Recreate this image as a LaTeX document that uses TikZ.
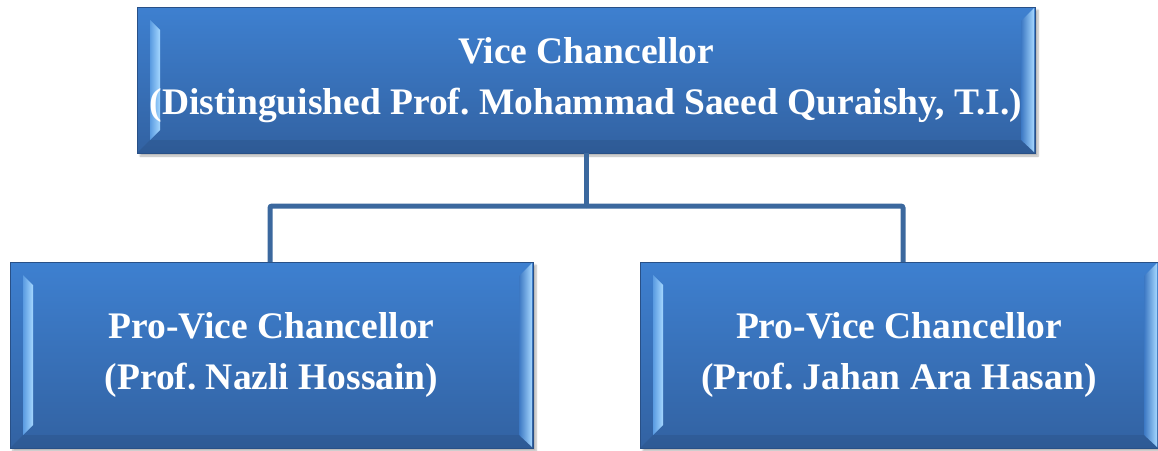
\documentclass[tikz,border=0pt]{standalone}
\usepackage{fontspec}
\setmainfont{Liberation Serif}
\usetikzlibrary{calc,shadows.blur}
\definecolor{boxtop}{RGB}{62,128,208}
\definecolor{boxbot}{RGB}{50,98,162}
\definecolor{boxedge}{RGB}{40,80,135}
\definecolor{linec}{RGB}{59,104,158}
\definecolor{facetdark}{RGB}{90,155,225}
\definecolor{facetlight}{RGB}{165,215,255}
\definecolor{rfacetdark}{RGB}{60,120,195}
\tikzset{
  bevelbox/.style={rectangle, inner sep=0pt, outer sep=0pt,
    top color=boxtop, bottom color=boxbot, draw=boxedge, line width=0.8pt,
    text=white, align=center,
    font=\frenchspacing\bfseries\fontsize{37.5}{51}\selectfont,
    blur shadow={shadow xshift=3pt, shadow yshift=-3pt, shadow blur steps=6, shadow opacity=30},
    path picture={
      \coordinate (pnw) at (path picture bounding box.north west);
      \coordinate (pne) at (path picture bounding box.north east);
      \coordinate (psw) at (path picture bounding box.south west);
      \coordinate (pse) at (path picture bounding box.south east);
      \shade[left color=facetdark, right color=facetlight]
        ($(pnw)+(13,13)$) -- ($(pnw)+(23,23)$) -- ($(psw)+(23,-23)$) -- ($(psw)+(13,-13)$) -- cycle;
      \shade[left color=rfacetdark, right color=facetlight]
        ($(pne)+(-14,14)$) -- ($(pne)+(-1,1)$) -- ($(pse)+(-1,-1)$) -- ($(pse)+(-14,-13)$) -- cycle;
      \fill[black, opacity=0.08] ($(psw)+(0,0)$) -- ($(psw)+(13,-13)$) -- ($(pse)+(-14,-13)$) -- ($(pse)$) -- cycle;
    }},
  conn/.style={draw=linec, line width=5pt, rounded corners=2pt}
}
\begin{document}
\begin{tikzpicture}[x=1pt,y=-1pt]
\useasboundingbox (0,0) rectangle (1158,450);
\node[bevelbox, minimum width=898pt, minimum height=146pt] (vc) at (586,80)
  {Vice Chancellor\\(Distinguished Prof. Mohammad Saeed Quraishy, T.I.)};
\coordinate (junc) at (586,206);
\draw[conn] (vc.south) -- (junc);
\node[bevelbox, minimum width=523pt, minimum height=186pt] (pvc1) at (271.5,355)
  {Pro-Vice Chancellor\\(Prof. Nazli Hossain)};
\node[bevelbox, minimum width=518pt, minimum height=186pt] (pvc2) at (899,355)
  {Pro-Vice Chancellor\\(Prof. Jahan Ara Hasan)};
\draw[conn] ([xshift=-1.5pt]pvc1.north) |- (junc);
\draw[conn] ([xshift=4pt]pvc2.north) |- (junc);
\end{tikzpicture}
\end{document}
